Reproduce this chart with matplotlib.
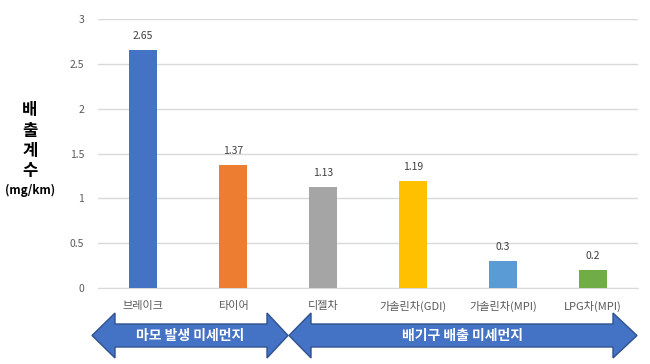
import matplotlib
matplotlib.use("Agg")
import matplotlib.pyplot as plt
from matplotlib.patches import Polygon

plt.rcParams['font.family'] = ['Noto Sans CJK KR', 'DejaVu Sans']

# data
categories = ['브레이크', '타이어', '디젤차', '가솔린차(GDI)', '가솔린차(MPI)', 'LPG차(MPI)']
values = [2.65, 1.37, 1.13, 1.19, 0.3, 0.2]
value_labels = ['2.65', '1.37', '1.13', '1.19', '0.3', '0.2']
bar_colors = ['#4472C4', '#ED7D31', '#A5A5A5', '#FFC000', '#5B9BD5', '#70AD47']
yticks = [0, 0.5, 1, 1.5, 2, 2.5, 3]
ytick_labels = ['0', '0.5', '1', '1.5', '2', '2.5', '3']
group_labels = ['마모 발생 미세먼지', '배기구 배출 미세먼지']

W, H = 650, 364
fig = plt.figure(figsize=(W / 100, H / 100), dpi=100)
ax = fig.add_axes([98 / W, 1 - 288 / H, 540 / W, (288 - 19) / H])

x = range(len(categories))
ax.bar(x, values, width=0.31, color=bar_colors, zorder=3)
for i, (v, lab) in enumerate(zip(values, value_labels)):
    ax.text(i, v + 0.1, lab, ha='center', va='bottom', fontsize=7.5, color='#404040')

ax.set_xlim(-0.5, len(categories) - 0.5)
ax.set_ylim(0, 3)
ax.set_yticks(yticks)
ax.set_yticklabels(ytick_labels, fontsize=7.5, color='#595959')
ax.set_xticks(list(x))
ax.set_xticklabels(categories, fontsize=8, color='#595959')
ax.tick_params(axis='x', length=0, pad=9)
ax.tick_params(axis='y', length=0, pad=10)
ax.grid(axis='y', color='#D9D9D9', linewidth=1, zorder=0)
for s in ['top', 'right', 'left']:
    ax.spines[s].set_visible(False)
ax.spines['bottom'].set_color('#D9D9D9')

# y label
for ch, yy in zip(['배', '출', '계', '수'], [110, 131, 151, 171]):
    fig.text(30 / W, 1 - yy / H, ch, ha='center', va='center', fontsize=12,
             fontweight='bold', color='black')
fig.text(30 / W, 1 - 190 / H, '(mg/km)', ha='center', va='center', fontsize=8.5,
         fontweight='bold', color='black')


def double_arrow(x0, x1, hb0, hb1, y_top, y_bot, ht, hbot):
    ym = (ht + hbot) / 2
    pts = [(x0, ym), (hb0, ht), (hb0, y_top), (hb1, y_top), (hb1, ht), (x1, ym),
           (hb1, hbot), (hb1, y_bot), (hb0, y_bot), (hb0, hbot)]
    pts = [(px / W, 1 - py / H) for px, py in pts]
    fig.patches.append(Polygon(pts, closed=True, transform=fig.transFigure,
                               facecolor='#4472C4', edgecolor='#2F528F', linewidth=1))


double_arrow(92, 288, 115, 267, 324, 347, 313, 358)
double_arrow(289, 637, 311, 613, 324, 347, 313, 358)
fig.text(190 / W, 1 - 336 / H, group_labels[0], ha='center', va='center',
         fontsize=10, fontweight='bold', color='white')
fig.text(463 / W, 1 - 336 / H, group_labels[1], ha='center', va='center',
         fontsize=10, fontweight='bold', color='white')

fig.savefig('out.png', dpi=100)
